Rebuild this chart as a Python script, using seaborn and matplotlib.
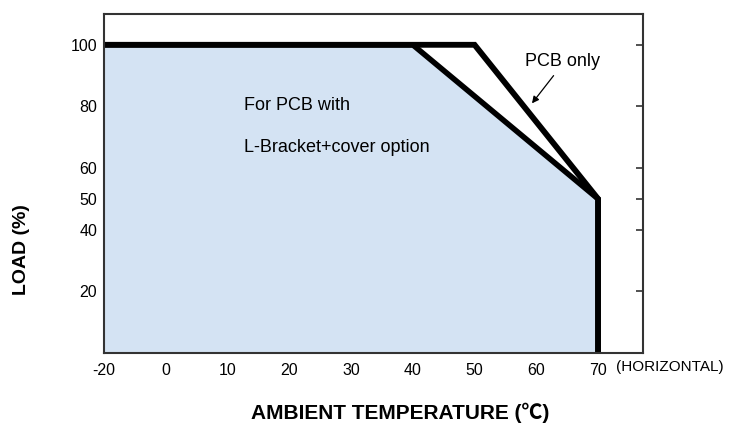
import numpy as np
import pandas as pd
import matplotlib
matplotlib.use("Agg")
import matplotlib.pyplot as plt
import seaborn as sns

# Courbes de derating (temperature ambiante -> charge %)
temp_pcb = [-20, 50, 70, 70]
load_pcb = [100, 100, 50, 0]
temp_bracket = [-20, 40, 70, 70]
load_bracket = [100, 100, 50, 0]

# l'axe du fabricant commence a -10 mais le premier repere est marque "-20"
x_ticks = [-10, 0, 10, 20, 30, 40, 50, 60, 70]
x_labels = ["-20", "0", "10", "20", "30", "40", "50", "60", "70"]
y_ticks = [20, 40, 50, 60, 80, 100]

sns.set_theme(style="white")
plt.rcParams['font.family'] = ['Liberation Sans', 'DejaVu Sans']
plt.rcParams['text.color'] = 'black'

fig = plt.figure(figsize=(7.3, 4.44), dpi=100)
ax = fig.add_axes([0.1425, 0.205, 0.7385, 0.7635])

df_pcb = pd.DataFrame({"temp": temp_pcb, "load": load_pcb})
df_br = pd.DataFrame({"temp": temp_bracket, "load": load_bracket})

# zone remplie sous la courbe L-Bracket
ax.fill_between(df_br["temp"], df_br["load"], 0, color="#d4e3f3", linewidth=0)

sns.lineplot(data=df_pcb, x="temp", y="load", sort=False, estimator=None,
             color="black", linewidth=4.2, ax=ax, solid_joinstyle="miter")
sns.lineplot(data=df_br, x="temp", y="load", sort=False, estimator=None,
             color="black", linewidth=4.0, ax=ax, solid_joinstyle="miter")

ax.set_xlim(-10, 77.3)
ax.set_ylim(0, 110)
ax.set_xticks(x_ticks)
ax.set_xticklabels(x_labels)
ax.set_yticks(y_ticks)
ax.set_yticklabels([str(t) for t in y_ticks])
ax.tick_params(axis="both", direction="in", length=5, width=1.2,
               color="#333333", labelcolor="black", labelsize=11.5, pad=5,
               right=True, bottom=True, left=True)
ax.tick_params(axis="x", pad=7)
for s in ax.spines.values():
    s.set_color("#333333")
    s.set_linewidth(1.5)

ax.set_xlabel("")
ax.set_ylabel("")

ax.text(12.7, 80.2, "For PCB with", fontsize=13, va="center", ha="left")
ax.text(12.7, 66.8, "L-Bracket+cover option", fontsize=13, va="center", ha="left")

ax.annotate("", xy=(59.3, 81.0), xytext=(62.8, 90.0),
            arrowprops=dict(arrowstyle="-|>", color="black", lw=0.9,
                            shrinkA=0, shrinkB=0, mutation_scale=10))
ax.text(58.2, 94.5, "PCB only", fontsize=13, ha="left", va="center")

fig.text(616 / 730, 1 - 367 / 444, "(HORIZONTAL)", fontsize=11,
         ha="left", va="center")
fig.text(400 / 730, 1 - 413 / 444, "AMBIENT TEMPERATURE (℃)", fontsize=15,
         fontweight="bold", ha="center", va="center",
         family=['Liberation Sans', 'Noto Sans CJK SC', 'DejaVu Sans'])
fig.text(22 / 730, 1 - 250 / 444, "LOAD (%)", fontsize=14, fontweight="bold",
         ha="center", va="center", rotation=90)

fig.savefig("out.png", dpi=100)
